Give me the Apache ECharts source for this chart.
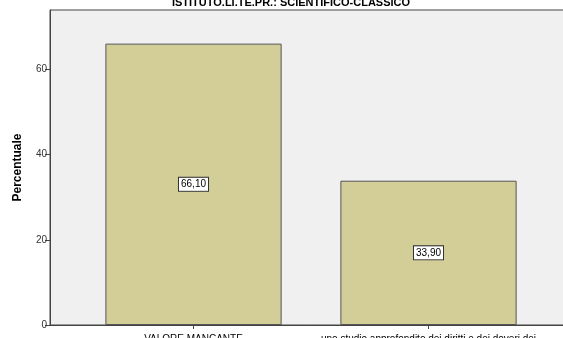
<!DOCTYPE html>
<html><head><meta charset="utf-8">
<script src="https://cdn.jsdelivr.net/npm/echarts@6/dist/echarts.min.js"></script>
<style>html,body{margin:0;padding:0;background:#fff}#c{width:563px;height:338px}</style>
</head><body><div id="c"></div>
<script>
var titleText = 'ISTITUTO.LI.TE.PR.: SCIENTIFICO-CLASSICO';
var categories = ['VALORE MANCANTE', 'uno studio approfondito dei diritti e dei doveri dei'];
var values = [66.10, 33.90];
var yTicks = [0, 20, 40, 60];
var yName = 'Percentuale';

var chart = echarts.init(document.getElementById('c'), null, {renderer: 'canvas'});
var font = 'Arial, "Liberation Sans", sans-serif';
var option = {
  animation: false,
  title: {text: titleText, left: 286, top: -8, textAlign: 'center',
    textStyle: {fontFamily: font, fontSize: 11, fontWeight: 'bold', color: '#000'}},
  grid: [
    {left: 50, top: 10, right: -5, bottom: 13, show: true, backgroundColor: '#f0f0f0', borderColor: '#444', borderWidth: 1, outerBoundsMode: 'none', containLabel: false},
    {left: 76, top: 10, width: 470, bottom: 13, outerBoundsMode: 'none', containLabel: false}
  ],
  xAxis: [
    {gridIndex: 0, type: 'value', min: 0, max: 1, show: true,
      axisLine: {show: true, lineStyle: {color: '#444'}}, axisTick: {show: false}, axisLabel: {show: false}, splitLine: {show: false}},
    {gridIndex: 1, type: 'category', data: categories, boundaryGap: true,
      axisLine: {show: false}, axisTick: {show: true, alignWithLabel: true, length: 4, lineStyle: {color: '#444'}},
      axisLabel: {interval: 0, fontFamily: font, fontSize: 10, color: '#000', margin: 9}}
  ],
  yAxis: [
    {gridIndex: 0, type: 'value', min: 0, max: 74, interval: 20, name: yName, nameLocation: 'middle', nameGap: 26,
      nameTextStyle: {fontFamily: font, fontSize: 12, fontWeight: 'bold', color: '#000'},
      axisLine: {show: true, lineStyle: {color: '#444'}}, axisTick: {show: true, length: 5, lineStyle: {color: '#444'}},
      axisLabel: {fontFamily: font, fontSize: 10, color: '#333', margin: 3, showMaxLabel: false,
        formatter: function(v){ return yTicks.indexOf(v) >= 0 ? String(v) : ''; }},
      splitLine: {show: false}},
    {gridIndex: 1, type: 'value', min: 0, max: 74, show: false}
  ],
  series: [{
    type: 'bar', xAxisIndex: 1, yAxisIndex: 1, data: values, barWidth: '75%',
    itemStyle: {color: '#d3ce98', borderColor: '#555', borderWidth: 1},
    label: {show: true, position: 'inside', fontFamily: font, fontSize: 10, color: '#000',
      backgroundColor: '#fff', borderColor: '#333', borderWidth: 1, padding: [2, 2, 1, 2],
      formatter: function(p){ return p.value.toFixed(2).replace('.', ','); }}
  }]
};
chart.setOption(option);
</script></body></html>
